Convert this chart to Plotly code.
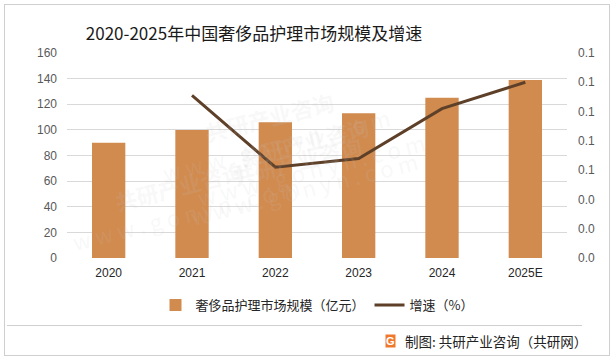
import plotly.graph_objects as go

categories = ["2020", "2021", "2022", "2023", "2024", "2025E"]
market_size = [90, 100, 106, 113, 125, 139]
growth_categories = ["2021", "2022", "2023", "2024", "2025E"]
growth_rate = [0.111, 0.062, 0.068, 0.102, 0.120]

bar_name = "奢侈品护理市场规模（亿元）"
line_name = "增速（%）"
title_text = "2020-2025年中国奢侈品护理市场规模及增速"
source_text = "制图: 共研产业咨询（共研网）"

FONT = "Liberation Sans, Noto Sans CJK SC, sans-serif"
CJK = "Noto Sans CJK SC, sans-serif"

fig = go.Figure()
fig.add_trace(go.Bar(x=categories, y=market_size, name=bar_name,
                     marker=dict(color="#D18B4F", line=dict(width=0)), yaxis="y"))
fig.add_trace(go.Scatter(x=growth_categories, y=growth_rate, name=line_name, mode="lines",
                         line=dict(color="#5E4029", width=3), yaxis="y2"))

PL, PR, PT, PB = 67, 567, 53, 258
W, H = PR - PL, PB - PT
def px(x): return (x - PL) / W
def py(y): return (PB - y) / H

# faint watermarks
wm = [(150, 130), (430, 95), (300, 235), (60, 260)]
annotations = []
for (x, y) in wm:
    annotations.append(dict(x=px(x), y=py(y), xref="paper", yref="paper", showarrow=False,
                            text="<b>共研产业咨询</b><br>w w w . g o n y n . c o m",
                            textangle=-14, font=dict(family=CJK, size=22, color="rgba(200,200,200,0.13)")))

annotations.append(dict(x=px(403), y=py(341), xref="paper", yref="paper", xanchor="left", yanchor="middle",
                        showarrow=False, text=source_text, font=dict(family=CJK, size=13.5, color="#222222")))
annotations.append(dict(x=px(390), y=py(341), xref="paper", yref="paper", xanchor="center", yanchor="middle",
                        showarrow=False, text="<b>G</b>", bgcolor="#F0782D", borderpad=0,
                        font=dict(family=FONT, size=11, color="white")))

fig.update_layout(
    width=615, height=359,
    margin=dict(l=PL, r=615 - PR, t=PT, b=359 - PB),
    paper_bgcolor="white", plot_bgcolor="white",
    font=dict(family=FONT, size=12, color="#595959"),
    title=dict(text=title_text, x=254 / 615, xref="container", xanchor="center",
               y=1 - 34 / 359, yref="container", yanchor="middle",
               font=dict(family=CJK, size=17, color="#1a1a1a")),
    bargap=0.6,
    showlegend=True,
    legend=dict(orientation="h", x=0.5, xanchor="center", y=py(305), yanchor="middle",
                font=dict(family=CJK, size=13, color="#262626"), traceorder="normal",
                itemwidth=30, bgcolor="rgba(0,0,0,0)"),
    xaxis=dict(type="category", categoryorder="array", categoryarray=categories,
               showgrid=False, zeroline=False, showline=False, ticks="",
               tickfont=dict(family=FONT, size=12, color="#262626"), ticklabelstandoff=6),
    yaxis=dict(range=[0, 160], dtick=20, showgrid=True, gridcolor="#D9D9D9", gridwidth=1,
               zeroline=False, showline=False, ticks="", ticklabelstandoff=9,
               tickfont=dict(family=FONT, size=12, color="#595959")),
    yaxis2=dict(range=[0, 0.14], dtick=0.02, tickformat=".1f", overlaying="y", side="right",
                showgrid=False, zeroline=False, showline=False, ticks="", ticklabelstandoff=10,
                tickfont=dict(family=FONT, size=12, color="#595959")),
    annotations=annotations,
)

post = (
    "document.body.style.margin='0';document.body.style.padding='0';"
    "var f=document.createElement('div');"
    "f.style.cssText='position:absolute;left:4px;top:4px;width:606px;height:352px;"
    "border:1px solid #CFCFCF;box-sizing:border-box;pointer-events:none;z-index:1000;';"
    "document.body.appendChild(f);"
    "var s=document.createElement('div');"
    "s.style.cssText='position:absolute;left:7px;top:325px;width:575px;height:1px;"
    "background:#CFCFCF;pointer-events:none;z-index:1000;';"
    "document.body.appendChild(s);"
)

fig.write_html("out.html", config={"displayModeBar": False}, post_script=post)
